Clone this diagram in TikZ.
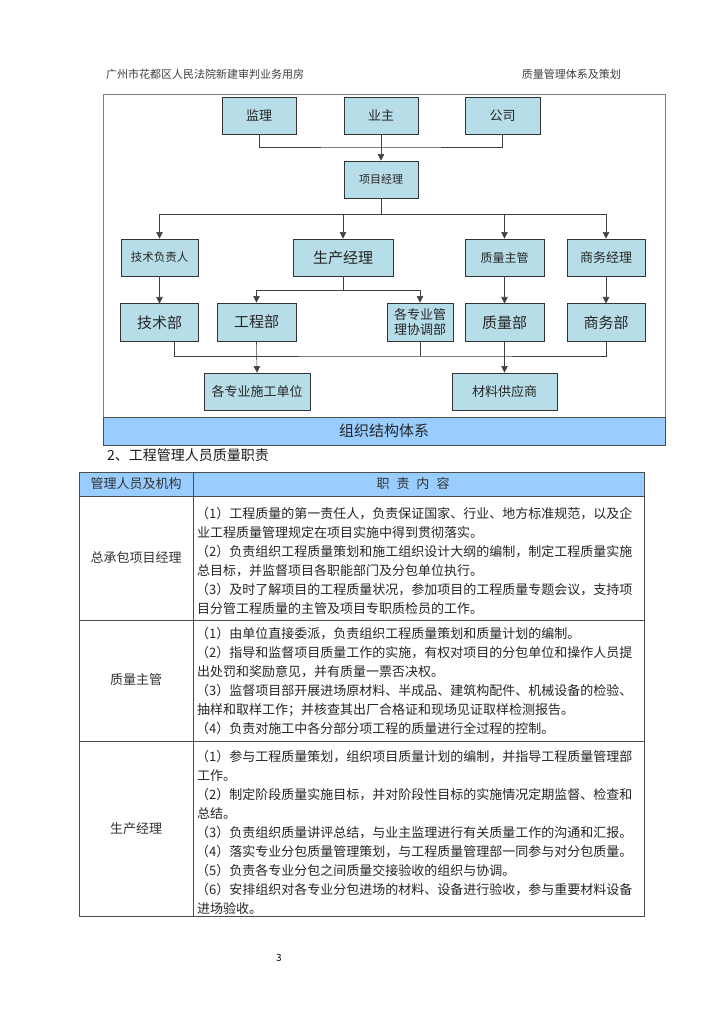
\documentclass[tikz,border=0pt]{standalone}
\usepackage{fontspec}
\newfontfamily\cjk{Noto Sans CJK SC}
\usetikzlibrary{arrows.meta,positioning}
\definecolor{boxblue}{HTML}{B7DDE8}
\definecolor{bandblue}{HTML}{99CCFF}
\definecolor{rulegray}{HTML}{7F7F7F}

\begin{document}
\begin{tikzpicture}[
  x=1pt, y=-1pt, font=\cjk,
  orgbox/.style={draw=black!80, fill=boxblue, line width=0.9pt, minimum height=37pt,
               inner sep=1pt, align=center, text=black!85, font=\cjk\fontsize{13}{16}\selectfont},
  conn/.style={draw=black!75, line width=0.6pt},
  arr/.style={conn, -{Triangle[width=6.5pt,length=6.5pt]}},
  tline/.style={anchor=base west, inner sep=0pt, text=black!85, font=\cjk\fontsize{13}{15}\selectfont},
  tlabel/.style={inner sep=0pt, text=black!80, font=\cjk\fontsize{13}{15}\selectfont}
]
\fill[white] (0,0) rectangle (724,1024);
\useasboundingbox (0,0) rectangle (724,1024);

% page header
\node[anchor=west, inner sep=0pt, text=black!75, font=\cjk\fontsize{11}{13}\selectfont] (hdl) at (106,74) {广州市花都区人民法院新建审判业务用房};
\node[anchor=east, inner sep=0pt, text=black!75, font=\cjk\fontsize{11}{13}\selectfont] (hdr) at (621,74) {质量管理体系及策划};

% organisation chart
\draw[rulegray, line width=1pt] (103,95) rectangle (665,445);
\node[orgbox, minimum width=74pt] (jianli) at (259,115.5) {监理};
\node[orgbox, minimum width=74pt] (yezhu) at (381,115.5) {业主};
\node[orgbox, minimum width=75pt] (gongsi) at (502.5,115.5) {公司};
\node[orgbox, minimum width=74pt, font=\cjk\fontsize{11}{13}\selectfont] (xmjl) at (381,179.5) {项目经理};
\node[orgbox, minimum width=77pt, font=\cjk\fontsize{11.5}{13}\selectfont] (jsfzr) at (159.5,257.5) {技术负责人};
\node[orgbox, minimum width=100pt, font=\cjk\fontsize{15}{17}\selectfont] (scjl) at (343,257.5) {生产经理};
\node[orgbox, minimum width=79pt, font=\cjk\fontsize{12}{14}\selectfont] (zlzg) at (504.5,257.5) {质量主管};
\node[orgbox, minimum width=78pt] (swjl) at (606,257.5) {商务经理};
\node[orgbox, minimum width=78pt, minimum height=38pt, font=\cjk\fontsize{15}{17}\selectfont, below=27pt of jsfzr] (jsb) {技术部};
\node[orgbox, minimum width=79pt, minimum height=38pt, font=\cjk\fontsize{15}{17}\selectfont] (gcb) at (256.5,322) {工程部};
\node[orgbox, minimum width=66pt, minimum height=38pt, font=\cjk\fontsize{13}{15}\selectfont] (xtb) at (420,322) {各专业管\\理协调部};
\node[orgbox, minimum width=79pt, minimum height=38pt, font=\cjk\fontsize{15}{17}\selectfont, below=27pt of zlzg] (zlb) {质量部};
\node[orgbox, minimum width=78pt, minimum height=38pt, font=\cjk\fontsize{15}{17}\selectfont, below=27pt of swjl] (swb) {商务部};
\node[orgbox, minimum width=106pt] (sgdw) at (257,391.5) {各专业施工单位};
\node[orgbox, minimum width=105pt] (clgys) at (504.5,391.5) {材料供应商};
\node[draw=black!70, fill=bandblue, line width=0.9pt, minimum width=562pt, minimum height=28pt,
      inner sep=0pt, text=black!85, font=\cjk\fontsize{15}{17}\selectfont] (band) at (384,431) {组织结构体系};

\coordinate (j1) at (381,147);
\coordinate (j2) at (381,214);
\coordinate (j3) at (343,290);
\coordinate (j4) at (420,356);
\draw[conn] (jianli.south) |- (j1) -| (gongsi.south);
\draw[arr] (yezhu.south) -- (xmjl.north);
\draw[conn] (xmjl.south) -- (j2);
\draw[arr] (j2) -| (jsfzr.north);
\draw[arr] (j2) -| (swjl.north);
\draw[arr] (scjl.north |- j2) -- (scjl.north);
\draw[arr] (zlzg.north |- j2) -- (zlzg.north);
\draw[arr] (jsfzr) -- (jsb);
\draw[arr] (zlzg) -- (zlb);
\draw[arr] (swjl) -- (swb);
\draw[conn] (scjl.south) -- (j3);
\draw[arr] (j3) -| (gcb.north);
\draw[arr] (j3) -| (xtb.north);
\draw[conn] ([xshift=15pt]jsb.south) |- (j4) -| (swb.south);
\draw[conn] (xtb.south) -- (j4);
\draw[arr] (gcb.south) -- (sgdw.north);
\draw[arr] (zlb.south) -- (clgys.north);

% section title
\node[anchor=west, inner sep=0pt, text=black!90, font=\cjk\fontsize{14}{16}\selectfont] (sec2) at (107,455) {2、工程管理人员质量职责};

% duty table
\fill[bandblue] (79,472) rectangle (644,496);
\draw[black!70, line width=0.8pt] (79,472) rectangle (644,916);
\draw[black!70, line width=0.8pt] (79,496) -- (644,496);
\draw[black!70, line width=0.8pt] (79,620) -- (644,620);
\draw[black!70, line width=0.8pt] (79,741) -- (644,741);
\draw[black!70, line width=0.8pt] (193,472) -- (193,916);
\node[tlabel] (hd1) at (136,484) {管理人员及机构};
\node[tlabel] (hd2) at (413,484) {职\hspace{7pt}责\hspace{7pt}内\hspace{7pt}容};
\node[tlabel] (who1) at (136,558) {总承包项目经理};
\node[tlabel] (who2) at (136,680) {质量主管};
\node[tlabel] (who3) at (136,829) {生产经理};

\node[tline] (a1) at (196,518) {（1）工程质量的第一责任人，负责保证国家、行业、地方标准规范，以及企};
\node[tline] (a2) at (197,537) {业工程质量管理规定在项目实施中得到贯彻落实。};
\node[tline] (a3) at (196,556) {（2）负责组织工程质量策划和施工组织设计大纲的编制，制定工程质量实施};
\node[tline] (a4) at (197,575) {总目标，并监督项目各职能部门及分包单位执行。};
\node[tline] (a5) at (196,594) {（3）及时了解项目的工程质量状况，参加项目的工程质量专题会议，支持项};
\node[tline] (a6) at (197,613) {目分管工程质量的主管及项目专职质检员的工作。};

\node[tline] (b1) at (196,638) {（1）由单位直接委派，负责组织工程质量策划和质量计划的编制。};
\node[tline] (b2) at (196,657) {（2）指导和监督项目质量工作的实施，有权对项目的分包单位和操作人员提};
\node[tline] (b3) at (197,676) {出处罚和奖励意见，并有质量一票否决权。};
\node[tline] (b4) at (196,695) {（3）监督项目部开展进场原材料、半成品、建筑构配件、机械设备的检验、};
\node[tline] (b5) at (197,714) {抽样和取样工作；并核查其出厂合格证和现场见证取样检测报告。};
\node[tline] (b6) at (196,733) {（4）负责对施工中各分部分项工程的质量进行全过程的控制。};

\node[tline] (c1) at (196,761) {（1）参与工程质量策划，组织项目质量计划的编制，并指导工程质量管理部};
\node[tline] (c2) at (197,780) {工作。};
\node[tline] (c3) at (196,799) {（2）制定阶段质量实施目标，并对阶段性目标的实施情况定期监督、检查和};
\node[tline] (c4) at (197,818) {总结。};
\node[tline] (c5) at (196,837) {（3）负责组织质量讲评总结，与业主监理进行有关质量工作的沟通和汇报。};
\node[tline] (c6) at (196,856) {（4）落实专业分包质量管理策划，与工程质量管理部一同参与对分包质量。};
\node[tline] (c7) at (196,875) {（5）负责各专业分包之间质量交接验收的组织与协调。};
\node[tline] (c8) at (196,894) {（6）安排组织对各专业分包进场的材料、设备进行验收，参与重要材料设备};
\node[tline] (c9) at (197,913) {进场验收。};

% page number
\node[inner sep=0pt, font=\cjk\fontsize{10}{12}\selectfont] (pageno) at (279,958) {3};
\end{tikzpicture}
\end{document}
